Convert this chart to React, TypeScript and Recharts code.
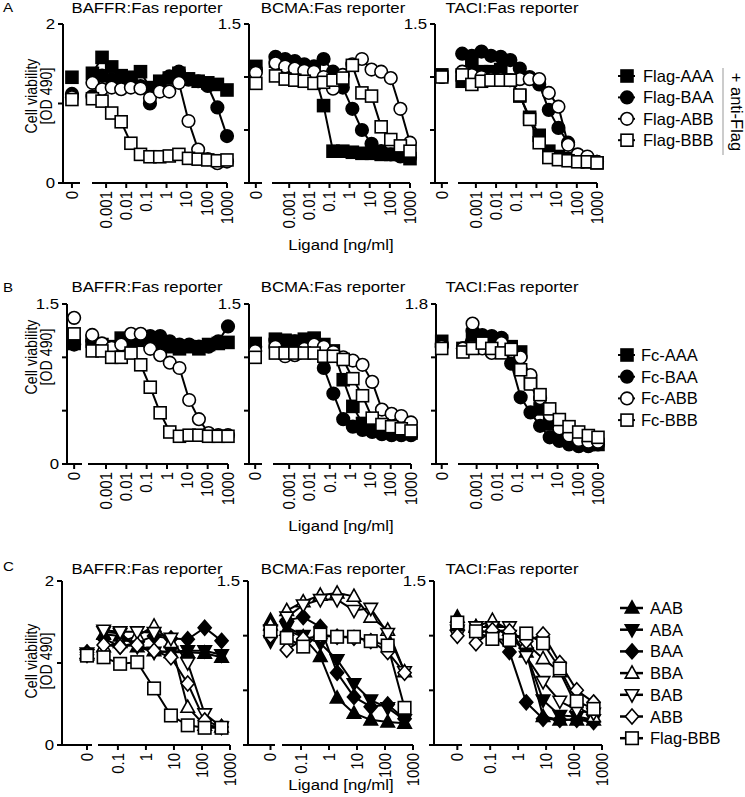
import React from 'react';
import { LineChart, Line, XAxis, YAxis, Legend } from 'recharts';

const FONT = '"Liberation Sans", Arial, Helvetica, sans-serif';
const SX = 1.12;

// ---- x values (ng/ml) ----
const concAB = [0.00021, 0.00063, 0.0019, 0.0056, 0.017, 0.051, 0.15, 0.46, 1.37, 4.1, 12.3, 37, 111, 333, 1000];
const concC = [0.031, 0.12, 0.49, 1.95, 7.8, 31, 125, 500];
const xTicksAB = [0.001, 0.01, 0.1, 1, 10, 100, 1000];
const xTicksC = [0.1, 1, 10, 100, 1000];

// ---- Row A: Flag ligands + anti-Flag ----
const flagAAA_BAFFR = [1.38, 1.58, 1.46, 1.35, 1.33, 1.40, 1.20, 1.28, 1.32, 1.38, 1.31, 1.28, 1.26, 1.24, 1.17];
const flagBAA_BAFFR = [1.09, 1.35, 1.30, 1.26, 1.29, 1.22, 1.00, 1.20, 1.34, 1.40, 1.30, 1.28, 1.22, 0.95, 0.59];
const flagABB_BAFFR = [1.26, 1.18, 1.20, 1.18, 1.20, 1.19, 1.07, 1.15, 1.15, 1.26, 0.78, 0.42, 0.30, 0.25, 0.27];
const flagBBB_BAFFR = [1.06, 1.03, 0.88, 0.77, 0.50, 0.36, 0.33, 0.33, 0.34, 0.36, 0.31, 0.30, 0.29, 0.28, 0.29];
const flagZero_BAFFR = [1.33, 1.12, 1.08, 1.05];

const flagAAA_BCMA = [1.15, 1.12, 1.10, 1.08, 1.05, 0.73, 0.30, 0.30, 0.29, 0.28, 0.28, 0.27, 0.27, 0.27, 0.23];
const flagBAA_BCMA = [1.19, 1.17, 1.15, 1.12, 1.10, 1.17, 1.05, 0.90, 0.70, 0.50, 0.37, 0.30, 0.27, 0.25, 0.24];
const flagABB_BCMA = [1.13, 1.10, 1.08, 1.06, 1.05, 1.00, 0.89, 1.02, 1.12, 1.17, 1.07, 1.05, 0.99, 0.70, 0.38];
const flagBBB_BCMA = [1.01, 0.98, 0.97, 0.96, 0.94, 0.95, 0.97, 0.99, 1.11, 0.85, 0.82, 0.53, 0.41, 0.35, 0.30];
const flagZero_BCMA = [1.10, 1.07, 1.04, 0.94];

const flagAAA_TACI = [0.96, 1.13, 1.05, 1.05, 1.07, 0.97, 0.82, 0.62, 0.45, 0.30, 0.25, 0.23, 0.21, 0.20, 0.19];
const flagBAA_TACI = [1.22, 1.20, 1.24, 1.20, 1.19, 1.16, 1.08, 1.00, 0.93, 0.69, 0.52, 0.38, 0.26, 0.22, 0.20];
const flagABB_TACI = [1.05, 1.02, 1.00, 0.98, 0.98, 0.97, 0.98, 0.98, 0.98, 0.85, 0.72, 0.36, 0.27, 0.25, 0.20];
const flagBBB_TACI = [1.02, 0.93, 0.96, 0.97, 0.97, 0.97, 0.83, 0.60, 0.38, 0.24, 0.22, 0.21, 0.20, 0.20, 0.19];
const flagZero_TACI = [1.02, 1.00, 1.00, 1.00];

// ---- Row B: Fc ligands ----
const fcAAA_BAFFR = [1.15, 1.12, 1.10, 1.18, 1.17, 1.16, 1.15, 1.12, 1.10, 1.08, 1.10, 1.08, 1.12, 1.13, 1.14];
const fcBAA_BAFFR = [1.15, 1.10, 1.02, 1.10, 1.15, 1.18, 1.20, 1.20, 1.15, 1.12, 1.12, 1.10, 1.10, 1.15, 1.29];
const fcABB_BAFFR = [1.21, 1.13, 1.09, 1.12, 1.22, 1.22, 1.08, 1.02, 0.95, 0.90, 0.60, 0.42, 0.29, 0.27, 0.27];
const fcBBB_BAFFR = [1.06, 1.06, 1.00, 1.00, 1.04, 0.93, 0.72, 0.48, 0.30, 0.26, 0.27, 0.27, 0.26, 0.26, 0.26];
const fcZero_BAFFR = [1.13, 1.12, 1.37, 1.22];

const fcAAA_BCMA = [1.17, 1.16, 1.15, 1.17, 1.18, 1.12, 1.06, 0.79, 0.54, 0.38, 0.33, 0.31, 0.30, 0.29, 0.29];
const fcBAA_BCMA = [1.16, 1.15, 1.15, 1.15, 1.12, 0.90, 0.66, 0.42, 0.35, 0.32, 0.30, 0.28, 0.27, 0.27, 0.27];
const fcABB_BCMA = [1.10, 1.01, 1.02, 1.08, 1.12, 1.10, 1.05, 1.00, 0.97, 0.93, 0.77, 0.51, 0.47, 0.45, 0.39];
const fcBBB_BCMA = [1.04, 1.04, 1.04, 1.04, 1.04, 1.01, 1.01, 0.98, 0.80, 0.64, 0.43, 0.37, 0.35, 0.33, 0.31];
const fcZero_BCMA = [1.13, 1.10, 1.06, 1.00];

const fcAAA_TACI = [1.30, 1.45, 1.42, 1.40, 1.38, 1.32, 1.26, 0.92, 0.62, 0.45, 0.32, 0.27, 0.24, 0.22, 0.22];
const fcBAA_TACI = [1.30, 1.50, 1.45, 1.44, 1.42, 1.13, 0.75, 0.58, 0.43, 0.30, 0.26, 0.22, 0.20, 0.20, 0.22];
const fcABB_TACI = [1.30, 1.58, 1.30, 1.25, 1.36, 1.30, 1.20, 1.00, 0.74, 0.55, 0.40, 0.32, 0.27, 0.25, 0.25];
const fcBBB_TACI = [1.26, 1.30, 1.36, 1.30, 1.25, 1.29, 1.06, 0.90, 0.78, 0.62, 0.50, 0.42, 0.36, 0.32, 0.30];
const fcZero_TACI = [1.38, 1.35, 1.32, 1.30];

// ---- Row C: heteromers ----
const mixAAB_BAFFR = [1.35, 1.33, 1.20, 1.15, 1.13, 1.13, 1.12, 1.07];
const mixABA_BAFFR = [1.38, 1.36, 1.20, 1.13, 1.14, 1.15, 1.15, 1.10];
const mixBAA_BAFFR = [1.30, 1.20, 1.25, 1.33, 1.30, 1.29, 1.43, 1.27];
const mixBBA_BAFFR = [1.20, 1.25, 1.33, 1.45, 1.25, 0.46, 0.24, 0.22];
const mixBAB_BAFFR = [1.40, 1.38, 1.38, 1.37, 1.30, 1.00, 0.38, 0.22];
const mixABB_BAFFR = [1.22, 1.20, 1.22, 1.15, 1.07, 0.75, 0.30, 0.22];
const mixBBB_BAFFR = [1.07, 0.99, 1.01, 0.69, 0.36, 0.24, 0.21, 0.21];
const mixZero_BAFFR = [1.12, 1.12, 1.13, 1.10, 1.10, 1.10, 1.09];

const mixAAB_BCMA = [1.05, 0.99, 0.81, 0.43, 0.29, 0.23, 0.21, 0.20];
const mixABA_BCMA = [1.08, 1.00, 0.93, 0.78, 0.56, 0.41, 0.34, 0.23];
const mixBAA_BCMA = [1.14, 1.17, 1.08, 0.66, 0.44, 0.35, 0.37, 0.24];
const mixBBA_BCMA = [1.23, 1.31, 1.37, 1.39, 1.36, 1.17, 1.05, 0.67];
const mixBAB_BCMA = [1.17, 1.28, 1.33, 1.33, 1.23, 1.25, 1.02, 0.67];
const mixABB_BCMA = [0.87, 0.97, 1.00, 0.99, 0.98, 0.95, 0.85, 0.66];
const mixBBB_BCMA = [0.98, 0.90, 1.01, 0.99, 0.99, 0.95, 0.91, 0.34];
const mixZero_BCMA = [1.14, 0.95, 1.05, 1.10, 1.05, 1.00, 1.04];

const mixAAB_TACI = [1.08, 1.08, 1.00, 0.85, 0.26, 0.23, 0.23, 0.23];
const mixABA_TACI = [1.08, 1.08, 1.00, 0.84, 0.41, 0.27, 0.26, 0.23];
const mixBAA_TACI = [1.05, 1.03, 0.85, 0.39, 0.24, 0.23, 0.23, 0.21];
const mixBBA_TACI = [1.08, 1.14, 1.05, 0.93, 0.79, 0.67, 0.35, 0.26];
const mixBAB_TACI = [1.08, 1.08, 1.08, 0.81, 0.58, 0.40, 0.32, 0.29];
const mixABB_TACI = [0.93, 1.05, 1.04, 0.95, 1.01, 0.75, 0.50, 0.39];
const mixBBB_TACI = [1.04, 0.97, 0.96, 1.02, 0.93, 0.70, 0.40, 0.33];
const mixZero_TACI = [1.17, 1.05, 1.08, 1.10, 1.00, 1.00, 1.12];

// ---- series definitions ----
type Shape = 'square' | 'circle' | 'triUp' | 'triDown' | 'diamond';
interface SeriesDef { key: string; name: string; shape: Shape; filled: boolean }

const flagSeries: SeriesDef[] = [
  { key: 'AAA', name: 'Flag-AAA', shape: 'square', filled: true },
  { key: 'BAA', name: 'Flag-BAA', shape: 'circle', filled: true },
  { key: 'ABB', name: 'Flag-ABB', shape: 'circle', filled: false },
  { key: 'BBB', name: 'Flag-BBB', shape: 'square', filled: false },
];
const fcSeries: SeriesDef[] = [
  { key: 'AAA', name: 'Fc-AAA', shape: 'square', filled: true },
  { key: 'BAA', name: 'Fc-BAA', shape: 'circle', filled: true },
  { key: 'ABB', name: 'Fc-ABB', shape: 'circle', filled: false },
  { key: 'BBB', name: 'Fc-BBB', shape: 'square', filled: false },
];
const mixSeries: SeriesDef[] = [
  { key: 'AAB', name: 'AAB', shape: 'triUp', filled: true },
  { key: 'ABA', name: 'ABA', shape: 'triDown', filled: true },
  { key: 'BAA', name: 'BAA', shape: 'diamond', filled: true },
  { key: 'BBA', name: 'BBA', shape: 'triUp', filled: false },
  { key: 'BAB', name: 'BAB', shape: 'triDown', filled: false },
  { key: 'ABB', name: 'ABB', shape: 'diamond', filled: false },
  { key: 'BBB', name: 'Flag-BBB', shape: 'square', filled: false },
];

function buildRows(conc: number[], series: SeriesDef[], cols: number[][]) {
  return conc.map((c, i) => {
    const r: Record<string, number> = { conc: c };
    series.forEach((s, j) => { r[s.key] = cols[j][i]; });
    return r;
  });
}
function buildZero(series: SeriesDef[], vals: number[]) {
  const r: Record<string, number> = { x: 0 };
  series.forEach((s, j) => { r[s.key] = vals[j]; });
  return [r];
}

// ---- marker drawing ----
function Marker({ cx, cy, shape, filled, size }: { cx: number; cy: number; shape: Shape; filled: boolean; size: number }) {
  const h = size / 2;
  const common = { fill: filled ? '#000' : '#fff', stroke: '#000', strokeWidth: 1.6 };
  if (shape === 'square') return <rect x={cx - h} y={cy - h} width={size} height={size} {...common} />;
  if (shape === 'circle') return <circle cx={cx} cy={cy} r={h + 0.3} {...common} />;
  if (shape === 'triUp')
    return <polygon points={`${cx},${cy - h * 1.15} ${cx + h * 1.08},${cy + h * 0.8} ${cx - h * 1.08},${cy + h * 0.8}`} {...common} />;
  if (shape === 'triDown')
    return <polygon points={`${cx},${cy + h * 1.15} ${cx + h * 1.08},${cy - h * 0.8} ${cx - h * 1.08},${cy - h * 0.8}`} {...common} />;
  return <polygon points={`${cx},${cy - h * 1.2} ${cx + h * 1.05},${cy} ${cx},${cy + h * 1.2} ${cx - h * 1.05},${cy}`} {...common} />;
}

function makeDot(s: SeriesDef, size: number) {
  return (p: any) => {
    if (!p || p.cx == null || p.cy == null || p.value == null) return <g key={`e-${s.key}-${p ? p.index : 0}`} />;
    return <Marker key={`${s.key}-${p.index}`} cx={p.cx} cy={p.cy} shape={s.shape} filled={s.filled} size={size} />;
  };
}

// ---- ticks ----
function XTick(p: any) {
  return (
    <text
      transform={`translate(${p.x},${p.y}) scale(${SX},1) rotate(-90)`}
      textAnchor="end"
      dominantBaseline="central"
      fontSize={15}
      fontFamily={FONT}
      fill="#000"
    >
      {String(p.payload.value)}
    </text>
  );
}
function makeYTick(labels: number[]) {
  return (p: any) => {
    const v = p.payload ? p.payload.value : null;
    if (v == null || !labels.includes(v)) return <g />;
    return (
      <text
        transform={`translate(${p.x},${p.y}) scale(${SX},1)`}
        textAnchor="end"
        dominantBaseline="central"
        fontSize={15}
        fontFamily={FONT}
        fill="#000"
      >
        {String(v)}
      </text>
    );
  };
}

const axisStyle = { stroke: '#000', strokeWidth: 2 };

interface LegendCfg { left: number; top: number; rowH: number; markerX: number; line: [number, number]; textX: number; lineW: number }
interface PanelCfg {
  title: string; series: SeriesDef[]; rows: any[]; zeroRows: any[];
  ax: number; zEnd: number; zDomain: [number, number];
  lStart: number; lEnd: number; logMin: number; xTicks: number[];
  top: number; bottom: number; yMax: number; yTicks: number[]; yLabels: number[];
  size: number; legend?: LegendCfg;
}

function LegendBox({ series, cfg, size }: { series: SeriesDef[]; cfg: LegendCfg; size: number }) {
  const h = 14 + series.length * cfg.rowH;
  return (
    <svg width={150} height={h} style={{ display: 'block', overflow: 'visible' }}>
      {series.map((s, i) => {
        const y = 12 + i * cfg.rowH;
        return (
          <g key={s.key}>
            <line x1={cfg.line[0]} x2={cfg.line[1]} y1={y} y2={y} stroke="#000" strokeWidth={cfg.lineW} />
            <Marker cx={cfg.markerX} cy={y} shape={s.shape} filled={s.filled} size={size} />
            <text x={cfg.textX} y={y} dominantBaseline="central" fontSize={16.5} fontFamily={FONT} fill="#000">
              {s.name}
            </text>
          </g>
        );
      })}
    </svg>
  );
}

const MT = 20;
const XH = 62;
const ZR = 10;
const YW = 50;
const LM = 10;

function Panel({ cfg }: { cfg: PanelCfg }) {
  const plotH = cfg.bottom - cfg.top;
  const h = MT + plotH + XH;
  const lines = (data: 'zero' | 'log') =>
    cfg.series.map((s) => (
      <Line
        key={`${data}-${s.key}`}
        dataKey={s.key}
        stroke="#000"
        strokeWidth={2}
        dot={makeDot(s, cfg.size)}
        activeDot={false}
        isAnimationActive={false}
      />
    ));
  const logLeft = cfg.lStart - LM;
  return (
    <>
      <div style={{ position: 'absolute', left: cfg.ax - YW, top: cfg.top - MT }}>
        <LineChart
          width={YW + (cfg.zEnd - cfg.ax) + ZR}
          height={h}
          data={cfg.zeroRows}
          margin={{ top: MT, right: ZR, bottom: 0, left: 0 }}
        >
          <XAxis
            dataKey="x"
            type="number"
            domain={cfg.zDomain}
            ticks={[0]}
            interval={0}
            height={XH}
            axisLine={axisStyle}
            tickLine={axisStyle}
            tickSize={5}
            tickMargin={3}
            tick={(p: any) => <XTick {...p} />}
          />
          <YAxis
            type="number"
            width={YW}
            domain={[0, cfg.yMax]}
            ticks={cfg.yTicks}
            interval={0}
            axisLine={axisStyle}
            tickLine={axisStyle}
            tickSize={5}
            tickMargin={3}
            tick={makeYTick(cfg.yLabels)}
          />
          {lines('zero')}
        </LineChart>
      </div>
      <div style={{ position: 'absolute', left: logLeft, top: cfg.top - MT }}>
        <LineChart
          width={cfg.lEnd - cfg.lStart + 2 * LM}
          height={h}
          data={cfg.rows}
          margin={{ top: MT, right: LM, bottom: 0, left: LM }}
        >
          <XAxis
            dataKey="conc"
            type="number"
            scale="log"
            domain={[cfg.logMin, 1000]}
            ticks={cfg.xTicks}
            interval={0}
            height={XH}
            axisLine={axisStyle}
            tickLine={axisStyle}
            tickSize={5}
            tickMargin={3}
            tick={(p: any) => <XTick {...p} />}
          />
          <YAxis hide type="number" domain={[0, cfg.yMax]} />
          {lines('log')}
          {cfg.legend && (
            <Legend
              layout="vertical"
              align="center"
              verticalAlign="middle"
              wrapperStyle={{
                position: 'absolute',
                left: cfg.legend.left - logLeft,
                top: cfg.legend.top - (cfg.top - MT),
                width: 150,
                height: 14 + cfg.series.length * cfg.legend.rowH,
                margin: 0,
                padding: 0,
              }}
              content={() => <LegendBox series={cfg.series} cfg={cfg.legend as LegendCfg} size={cfg.size} />}
            />
          )}
        </LineChart>
      </div>
    </>
  );
}

// ---- panel configs ----
const rowA = { top: 24, bottom: 183 };
const rowB = { top: 304, bottom: 464 };
const rowC = { top: 581, bottom: 745 };

const legendA: LegendCfg = { left: 610, top: 64, rowH: 21.4, markerX: 17, line: [8, 25], textX: 33, lineW: 2 };
const legendB: LegendCfg = { left: 610, top: 343, rowH: 21.7, markerX: 17, line: [8, 25], textX: 31, lineW: 2 };
const legendC: LegendCfg = { left: 610, top: 596, rowH: 21.7, markerX: 22, line: [10, 33], textX: 40, lineW: 2.5 };

const panels: PanelCfg[] = [
  {
    title: 'BAFFR:Fas reporter', series: flagSeries,
    rows: buildRows(concAB, flagSeries, [flagAAA_BAFFR, flagBAA_BAFFR, flagABB_BAFFR, flagBBB_BAFFR]),
    zeroRows: buildZero(flagSeries, flagZero_BAFFR),
    ax: 63, zEnd: 80, zDomain: [-1, 0.9], lStart: 92, lEnd: 227, logMin: 0.0002, xTicks: xTicksAB,
    ...rowA, yMax: 2, yTicks: [0, 1, 2], yLabels: [0, 2], size: 12,
  },
  {
    title: 'BCMA:Fas reporter', series: flagSeries,
    rows: buildRows(concAB, flagSeries, [flagAAA_BCMA, flagBAA_BCMA, flagABB_BCMA, flagBBB_BCMA]),
    zeroRows: buildZero(flagSeries, flagZero_BCMA),
    ax: 249, zEnd: 262, zDomain: [-1, 0.9], lStart: 272, lEnd: 410, logMin: 0.00014, xTicks: xTicksAB,
    ...rowA, yMax: 1.5, yTicks: [0, 0.5, 1, 1.5], yLabels: [1.5], size: 12,
  },
  {
    title: 'TACI:Fas reporter', series: flagSeries,
    rows: buildRows(concAB, flagSeries, [flagAAA_TACI, flagBAA_TACI, flagABB_TACI, flagBBB_TACI]),
    zeroRows: buildZero(flagSeries, flagZero_TACI),
    ax: 435, zEnd: 448, zDomain: [-1, 0.9], lStart: 458, lEnd: 597, logMin: 0.00013, xTicks: xTicksAB,
    ...rowA, yMax: 1.5, yTicks: [0, 0.5, 1, 1.5], yLabels: [1.5], size: 12, legend: legendA,
  },
  {
    title: 'BAFFR:Fas reporter', series: fcSeries,
    rows: buildRows(concAB, fcSeries, [fcAAA_BAFFR, fcBAA_BAFFR, fcABB_BAFFR, fcBBB_BAFFR]),
    zeroRows: buildZero(fcSeries, fcZero_BAFFR),
    ax: 67, zEnd: 82, zDomain: [-1, 1.1], lStart: 88, lEnd: 228, logMin: 0.00013, xTicks: xTicksAB,
    ...rowB, yMax: 1.5, yTicks: [0, 0.5, 1, 1.5], yLabels: [0, 1.5], size: 12,
  },
  {
    title: 'BCMA:Fas reporter', series: fcSeries,
    rows: buildRows(concAB, fcSeries, [fcAAA_BCMA, fcBAA_BCMA, fcABB_BCMA, fcBBB_BCMA]),
    zeroRows: buildZero(fcSeries, fcZero_BCMA),
    ax: 249, zEnd: 262, zDomain: [-1, 1.1], lStart: 273, lEnd: 411, logMin: 0.00016, xTicks: xTicksAB,
    ...rowB, yMax: 1.5, yTicks: [0, 0.5, 1, 1.5], yLabels: [1.5], size: 12,
  },
  {
    title: 'TACI:Fas reporter', series: fcSeries,
    rows: buildRows(concAB, fcSeries, [fcAAA_TACI, fcBAA_TACI, fcABB_TACI, fcBBB_TACI]),
    zeroRows: buildZero(fcSeries, fcZero_TACI),
    ax: 436, zEnd: 448, zDomain: [-1, 1.1], lStart: 458, lEnd: 598, logMin: 0.00012, xTicks: xTicksAB,
    ...rowB, yMax: 1.8, yTicks: [0, 0.6, 1.2, 1.8], yLabels: [1.8], size: 12, legend: legendB,
  },
  {
    title: 'BAFFR:Fas reporter', series: mixSeries,
    rows: buildRows(concC, mixSeries, [mixAAB_BAFFR, mixABA_BAFFR, mixBAA_BAFFR, mixBBA_BAFFR, mixBAB_BAFFR, mixABB_BAFFR, mixBBB_BAFFR]),
    zeroRows: buildZero(mixSeries, mixZero_BAFFR),
    ax: 62, zEnd: 92, zDomain: [-1, 0.2], lStart: 98, lEnd: 230, logMin: 0.0195, xTicks: xTicksC,
    ...rowC, yMax: 2, yTicks: [0, 1, 2], yLabels: [0, 2], size: 12.5,
  },
  {
    title: 'BCMA:Fas reporter', series: mixSeries,
    rows: buildRows(concC, mixSeries, [mixAAB_BCMA, mixABA_BCMA, mixBAA_BCMA, mixBBA_BCMA, mixBAB_BCMA, mixABB_BCMA, mixBBB_BCMA]),
    zeroRows: buildZero(mixSeries, mixZero_BCMA),
    ax: 248, zEnd: 275, zDomain: [-1, 0.2], lStart: 282, lEnd: 413, logMin: 0.021, xTicks: xTicksC,
    ...rowC, yMax: 1.5, yTicks: [0, 0.5, 1, 1.5], yLabels: [1.5], size: 12.5,
  },
  {
    title: 'TACI:Fas reporter', series: mixSeries,
    rows: buildRows(concC, mixSeries, [mixAAB_TACI, mixABA_TACI, mixBAA_TACI, mixBBA_TACI, mixBAB_TACI, mixABB_TACI, mixBBB_TACI]),
    zeroRows: buildZero(mixSeries, mixZero_TACI),
    ax: 434, zEnd: 462, zDomain: [-1, 0.2], lStart: 470, lEnd: 602, logMin: 0.019, xTicks: xTicksC,
    ...rowC, yMax: 1.5, yTicks: [0, 0.5, 1, 1.5], yLabels: [1.5], size: 12.5, legend: legendC,
  },
];

// ---- static text ----
const panelLetters = [
  { t: 'A', y: 12 },
  { t: 'B', y: 292 },
  { t: 'C', y: 571 },
];
const titleXs = [147, 333, 512];
const titleYs = [13, 292, 574];
const yLabelYs = [96, 357, 661];
const ligandYs = [250, 531, 790];

function HText({ x, y, children, size = 15, anchor = 'middle' }: { x: number; y: number; children: React.ReactNode; size?: number; anchor?: string }) {
  return (
    <text transform={`translate(${x},${y}) scale(${SX},1)`} textAnchor={anchor as any} fontSize={size} fontFamily={FONT} fill="#000">
      {children}
    </text>
  );
}

function Overlay() {
  return (
    <svg width={745} height={797} style={{ position: 'absolute', left: 0, top: 0, pointerEvents: 'none' }}>
      {panelLetters.map((l) => (
        <HText key={l.t} x={3} y={l.y} size={13.5} anchor="start">{l.t}</HText>
      ))}
      {panels.map((p, i) => (
        <HText key={`t${i}`} x={titleXs[i % 3]} y={titleYs[Math.floor(i / 3)]}>{p.title}</HText>
      ))}
      {yLabelYs.map((y, i) => (
        <g key={`yl${i}`}>
          <text transform={`translate(31,${y}) scale(${SX},1) rotate(-90)`} textAnchor="middle" dominantBaseline="central" fontSize={14.2} fontFamily={FONT} fill="#000">
            Cell viability
          </text>
          <text transform={`translate(46,${y}) scale(${SX},1) rotate(-90)`} textAnchor="middle" dominantBaseline="central" fontSize={14.2} fontFamily={FONT} fill="#000">
            [OD 490]
          </text>
        </g>
      ))}
      {ligandYs.map((y, i) => (
        <HText key={`lg${i}`} x={341} y={y}>Ligand [ng/ml]</HText>
      ))}
      <line x1={723} x2={723} y1={68} y2={155} stroke="#999" strokeWidth={1} />
      <text transform="translate(737,112) rotate(90)" textAnchor="middle" dominantBaseline="central" fontSize={16.5} fontFamily={FONT} fill="#000">
        + anti-Flag
      </text>
    </svg>
  );
}

export default function App() {
  return (
    <div style={{ position: 'absolute', left: 0, top: 0, width: 745, height: 797, background: '#fff', overflow: 'hidden' }}>
      {panels.map((p, i) => (
        <Panel key={i} cfg={p} />
      ))}
      <Overlay />
    </div>
  );
}
